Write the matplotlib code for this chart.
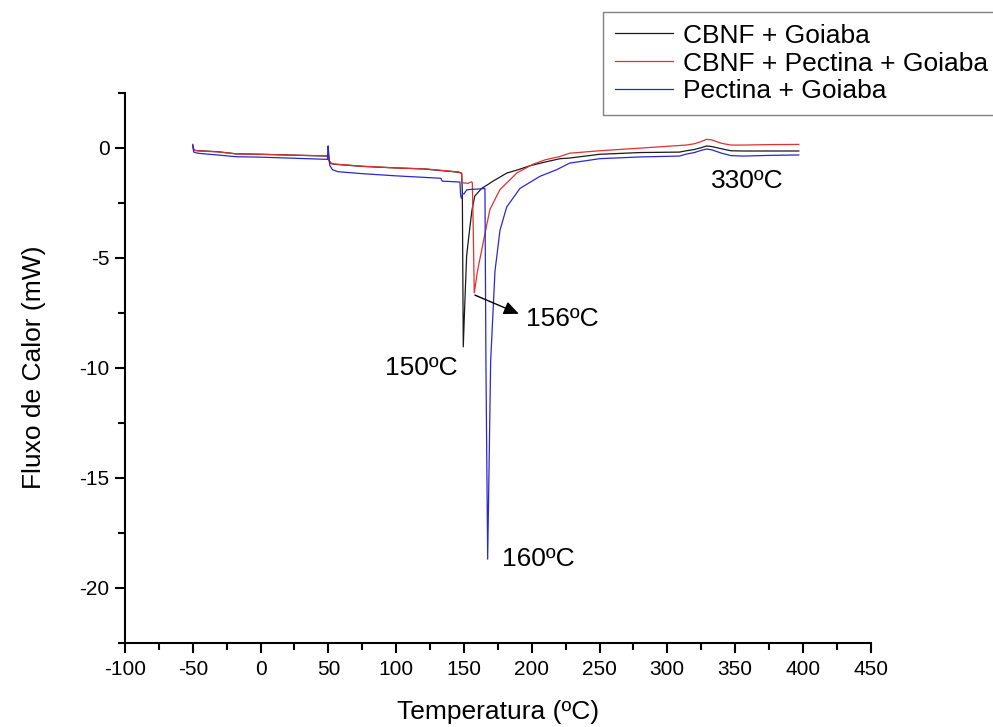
import matplotlib
matplotlib.use("Agg")
import matplotlib.pyplot as plt
from matplotlib.ticker import MultipleLocator

plt.rcParams["font.family"] = ["Liberation Sans", "DejaVu Sans"]
plt.rcParams["axes.unicode_minus"] = False

# DSC curves (temperature in ºC, heat flow in mW)
labels = ["CBNF + Goiaba", "CBNF + Pectina + Goiaba", "Pectina + Goiaba"]

black_t = [-50, -49.6, -49, -45, -32, -18, 0, 25, 49.5, 50, 50.5, 52, 54, 75, 100,
           121, 142, 146, 148.3, 148.8, 149.5, 150.5, 152, 154.4, 156, 158, 163,
           167, 172, 181.7, 190, 198.7, 210, 220.8, 228, 250, 280, 309, 314, 320,
           325, 329, 333, 340, 347, 356, 375, 397]
black_q = [0.1, 0.0, -0.12, -0.14, -0.18, -0.28, -0.3, -0.34, -0.38, -0.3, -0.6,
           -0.72, -0.75, -0.85, -0.92, -0.97, -1.09, -1.12, -1.16, -2.0, -9.05,
           -7.3, -4.9, -3.6, -2.8, -2.2, -1.85, -1.7, -1.5, -1.15, -1.0, -0.82,
           -0.65, -0.5, -0.47, -0.3, -0.22, -0.2, -0.14, -0.08, 0.0, 0.08, 0.05,
           -0.05, -0.14, -0.15, -0.15, -0.15]

red_t = [-50, -49.6, -49, -45, -32, -18, 0, 25, 49.5, 50, 50.5, 52, 54, 75, 100,
         121, 142, 146, 148.3, 148.6, 150, 153, 155.7, 156.2, 156.8, 157.6, 160,
         163.1, 165.5, 169.2, 176.6, 189, 201, 210, 220.8, 228, 250, 280, 309,
         314, 320, 325, 329, 333, 340, 347, 356, 375, 397]
red_q = [0.05, -0.05, -0.12, -0.15, -0.19, -0.28, -0.3, -0.34, -0.37, -0.3, -0.58,
         -0.7, -0.74, -0.84, -0.92, -0.96, -1.08, -1.1, -1.16, -1.6, -1.6, -1.62,
         -1.55, -1.6, -3.5, -6.6, -5.6, -4.65, -3.9, -2.8, -1.9, -1.15, -0.75,
         -0.55, -0.4, -0.25, -0.14, -0.02, 0.1, 0.12, 0.18, 0.28, 0.38, 0.35, 0.2,
         0.12, 0.12, 0.14, 0.15]

blue_t = [-50, -49.7, -49.3, -47, -45, -32, -18, 0, 25, 49.3, 49.8, 50.3, 51, 53,
          57, 75, 100, 121, 133, 134, 147, 147.6, 148.2, 149, 150, 152, 154.4, 160,
          165.5, 166.2, 167.5, 169.7, 172.9, 176.6, 181.5, 191.3, 206.1, 218.4,
          228, 250, 280, 309, 314, 320, 325, 329, 333, 340, 347, 356, 375, 397]
blue_q = [0.15, -0.05, -0.2, -0.24, -0.26, -0.33, -0.41, -0.43, -0.48, -0.53, 0.08,
          -0.3, -0.8, -1.0, -1.09, -1.18, -1.28, -1.35, -1.39, -1.52, -1.56, -2.2,
          -2.3, -2.1, -2.1, -1.92, -1.9, -1.88, -1.85, -9.7, -18.7, -9.7, -5.6,
          -3.75, -2.7, -1.85, -1.3, -1.0, -0.7, -0.5, -0.42, -0.38, -0.29, -0.22,
          -0.12, -0.06, -0.1, -0.25, -0.36, -0.38, -0.35, -0.33]

colors = ["#1a1a1a", "#e03030", "#2828d0"]

# peak labels: (text, x, y)
peak_labels = [("150ºC", 118.8, -10.0), ("160ºC", 177.8, -18.7), ("330ºC", 359.0, -1.5)]
arrow_start = (158.1, -6.7)
arrow_end = (190.5, -7.55)
arrow_label = ("156ºC", 196.0, -7.8)


def main():
    fig = plt.figure(figsize=(9.93, 7.27), dpi=100)
    ax = fig.add_axes([0.1259, 0.1159, 0.7509, 0.7566])

    for t, q, c, lab in zip([black_t, red_t, blue_t], [black_q, red_q, blue_q], colors, labels):
        ax.plot(t, q, color=c, lw=0.9, label=lab)

    ax.set_xlim(-100, 450)
    ax.set_ylim(-22.5, 2.5)
    ax.xaxis.set_major_locator(MultipleLocator(50))
    ax.xaxis.set_minor_locator(MultipleLocator(25))
    ax.yaxis.set_major_locator(MultipleLocator(5))
    ax.yaxis.set_minor_locator(MultipleLocator(2.5))
    ax.spines["top"].set_visible(False)
    ax.spines["right"].set_visible(False)
    for s in ["left", "bottom"]:
        ax.spines[s].set_linewidth(1.5)
    ax.tick_params(which="major", direction="out", length=7.5, width=1.5, labelsize=15)
    ax.tick_params(axis="x", which="major", pad=5)
    ax.tick_params(which="minor", direction="out", length=4.8, width=1.5)

    ax.set_xlabel("Temperatura (ºC)", fontsize=19, labelpad=15)
    ax.set_ylabel("Fluxo de Calor (mW)", fontsize=19, labelpad=24)

    for txt, x, y in peak_labels:
        ha = "left" if txt == "160ºC" else "center"
        ax.text(x, y, txt, fontsize=19, ha=ha, va="center")

    ax.annotate("", xy=arrow_end, xytext=arrow_start,
                arrowprops=dict(arrowstyle="-|>,head_length=0.9,head_width=0.4",
                                color="black", lw=1.0, shrinkA=0, shrinkB=0))
    ax.text(arrow_label[1], arrow_label[2], arrow_label[0], fontsize=19, ha="left", va="center")

    leg = ax.legend(loc="upper left", bbox_to_anchor=(603 / 993, 1 - 11.7 / 727),
                    bbox_transform=fig.transFigure, borderaxespad=0, fontsize=19,
                    frameon=True, fancybox=False, framealpha=1, edgecolor="#808080",
                    handlelength=2.2, handletextpad=0.4, labelspacing=0.15,
                    borderpad=0.45)
    leg.get_frame().set_linewidth(1.0)

    fig.savefig("out.png", dpi=100)
    plt.close(fig)


if __name__ == "__main__":
    main()
